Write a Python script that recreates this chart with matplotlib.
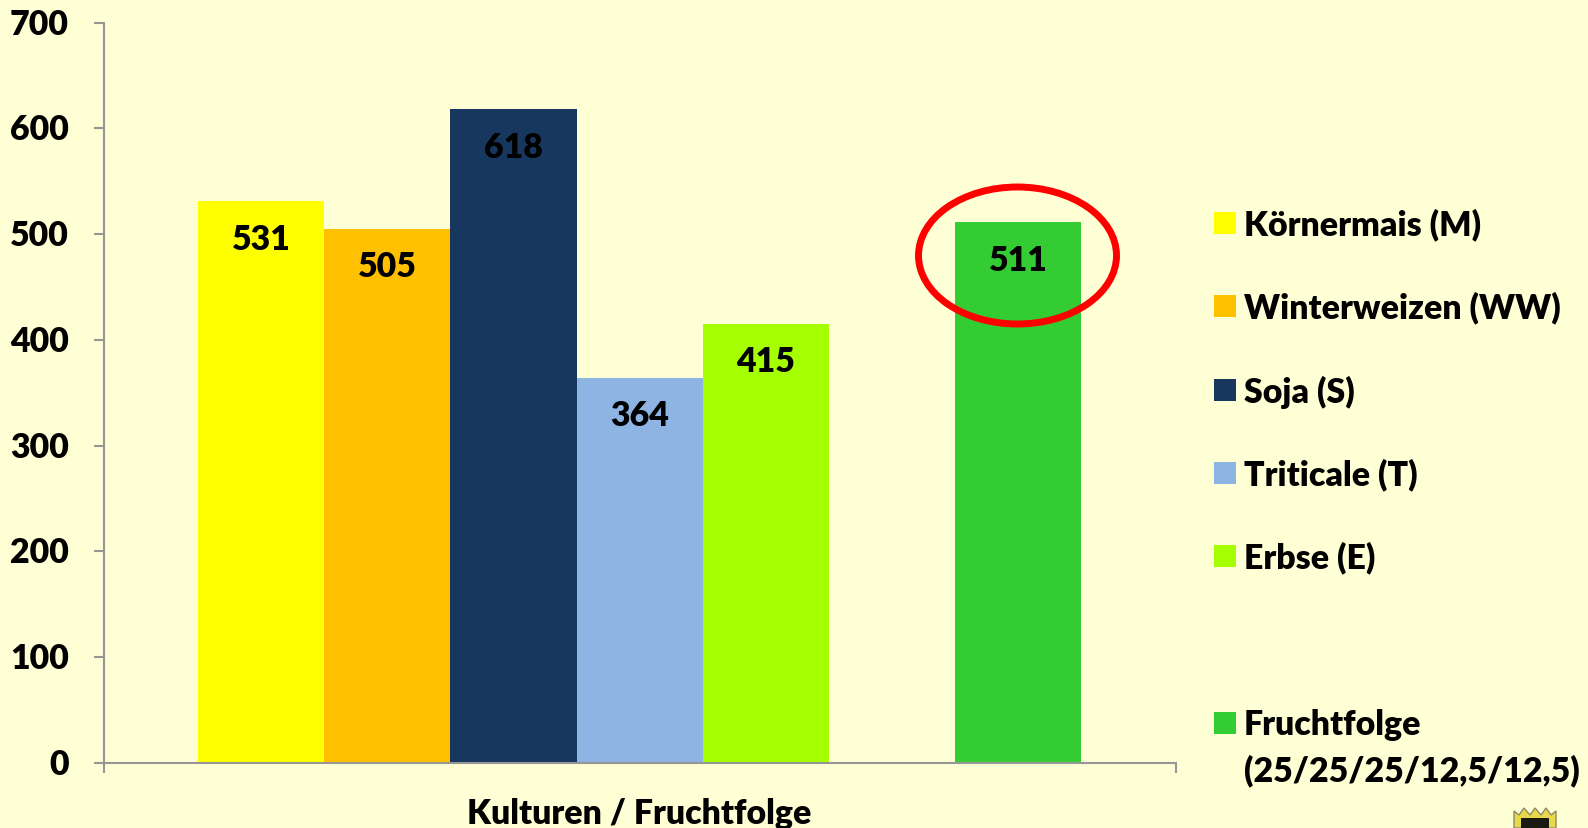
import matplotlib
matplotlib.use("Agg")
import matplotlib.pyplot as plt
from matplotlib.patches import Ellipse, Polygon, Rectangle
from matplotlib.transforms import ScaledTranslation

W = 1588
H = 829
BG = "#FFFFD5"

plt.rcParams['font.family'] = ['Lato', 'DejaVu Sans']
plt.rcParams['font.weight'] = 'heavy'

crops = ["Körnermais (M)", "Winterweizen (WW)", "Soja (S)", "Triticale (T)", "Erbse (E)",
         "Fruchtfolge\n(25/25/25/12,5/12,5)"]
values = [531, 505, 618, 364, 415, 511]
positions = [0, 1, 2, 3, 4, 6]
colors = ["#FFFF00", "#FFC000", "#17375E", "#8EB4E3", "#A6FF00", "#33CC33"]
yticks = [0, 100, 200, 300, 400, 500, 600, 700]
xlabel = "Kulturen / Fruchtfolge"
legend_y = [225, 308, 392, 475, 558, 725]
FS = 24.4


def fx(px):
    return px / W


def fy(py):
    return 1 - py / H


fig = plt.figure(figsize=(W / 100, H / 100), dpi=100, facecolor=BG)
ax = fig.add_axes([fx(103.5), fy(764), (1176 - 103.5) / W, (764 - 23.5) / H], facecolor=BG)

ax.bar(positions, values, width=1.0, color=colors, linewidth=0, zorder=2)
for x, v in zip(positions, values):
    ax.annotate(str(v), (x, v), xytext=(0, -27), textcoords='offset points',
                ha='center', va='center', fontsize=FS, color='black', zorder=4)

ax.set_xlim(-1.25, 7.25)
ax.set_ylim(0, 700)
ax.set_yticks(yticks)
ax.set_xticks([-1.25, 7.25])
ax.set_xticklabels([])
ax.tick_params(axis='y', direction='out', length=7, width=1.5, color='#969696',
               labelsize=FS, labelcolor='black', pad=18)
ax.tick_params(axis='x', direction='out', length=7, width=1.5, color='#969696')
for lab in ax.get_yticklabels():
    lab.set_transform(lab.get_transform() + ScaledTranslation(0, 2 / 100, fig.dpi_scale_trans))
for side in ['top', 'right']:
    ax.spines[side].set_visible(False)
for side in ['left', 'bottom']:
    ax.spines[side].set_color('#969696')
    ax.spines[side].set_linewidth(1.5)

fig.text(fx(639), fy(814), xlabel, ha='center', va='center', fontsize=FS, color='black')

# red circle round the crop rotation bar
ax.add_patch(Ellipse((fx(1017.5), fy(256.5)), 198 / W, 137 / H, transform=fig.transFigure,
                     fill=False, edgecolor='#FF0000', linewidth=5, zorder=5, clip_on=False))

# legend has an uneven gap before the last entry, so placed by hand
for name, c, py in zip(crops, colors, legend_y):
    fig.patches.append(Rectangle((fx(1214), fy(py + 10)), 22 / W, 22 / H, transform=fig.transFigure,
                                 facecolor=c, edgecolor='none', figure=fig))
    if "\n" in name:
        first, second = name.split("\n")
        fig.text(fx(1244), fy(py), first, va='center', ha='left', fontsize=FS, color='black')
        fig.text(fx(1244), fy(py + 46), second, va='center', ha='left', fontsize=FS, color='black')
    else:
        fig.text(fx(1244), fy(py), name, va='center', ha='left', fontsize=FS, color='black')

# small crest cut off by the bottom edge
crown = [(1514, 829), (1514, 812), (1519, 816), (1524, 809), (1530, 816), (1535, 809),
         (1541, 816), (1546, 809), (1551, 816), (1556, 812), (1556, 829)]
fig.patches.append(Polygon([(fx(a), fy(b)) for a, b in crown], transform=fig.transFigure,
                           facecolor='#E8D84A', edgecolor='#8C8C6A', linewidth=1, figure=fig))
fig.patches.append(Rectangle((fx(1521), fy(829)), 28 / W, 10 / H, transform=fig.transFigure,
                             facecolor='#1A1A10', edgecolor='none', figure=fig))

fig.savefig("out.png", dpi=100, facecolor=BG)
